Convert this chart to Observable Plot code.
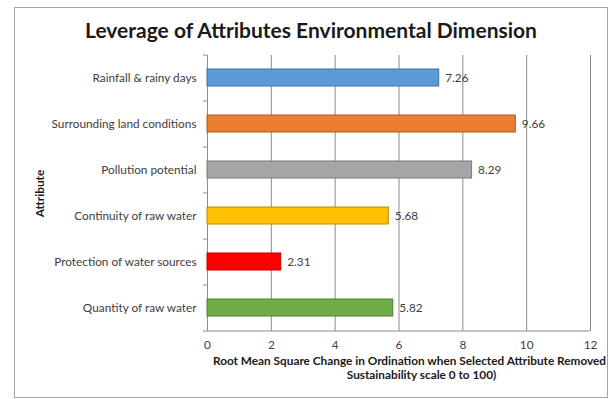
<!DOCTYPE html>
<html>
<head>
<meta charset="utf-8">
<script src="https://cdn.jsdelivr.net/npm/d3@7"></script>
<script src="https://cdn.jsdelivr.net/npm/@observablehq/plot@0.6"></script>
<style>
  body { margin: 0; background: #fff; font-family: Lato, "Open Sans", sans-serif; }
  #chart { position: relative; width: 613px; height: 399px; overflow: hidden; }
  #box { position: absolute; left: 14px; top: 7px; width: 592px; height: 389px; border: 1px solid #a6a6a6; }
  #title { position: absolute; left: 311px; top: 18px; transform: translateX(-50%); white-space: nowrap;
           font-size: 21px; font-weight: 700; color: #1a1a1a; line-height: 24px; }
  #plot { position: absolute; left: 0; top: 48px; }
</style>
</head>
<body>
<div id="chart">
  <div id="box"></div>
  <div id="title">Leverage of Attributes Environmental Dimension</div>
  <div id="plot"></div>
</div>
<script>
// Attributes of the environmental dimension, top to bottom
const categories = [
  "Rainfall & rainy days",
  "Surrounding land conditions",
  "Pollution potential",
  "Continuity of raw water",
  "Protection of water sources",
  "Quantity of raw water"
];
// RMS change in ordination when each attribute is removed
const values = [7.26, 9.66, 8.29, 5.68, 2.31, 5.82];
const xTicks = [0, 2, 4, 6, 8, 10, 12];
const yTitle = "Attribute";
const xTitleLine1 = "Root Mean Square Change in Ordination when Selected Attribute Removed";
const xTitleLine2 = "Sustainability scale 0 to 100)";

// Bar fill and outline colours
const fills = ["#5b9bd5", "#ed7d31", "#a5a5a5", "#ffc000", "#ff0000", "#70ad47"];
const strokes = ["#41719c", "#ae5a21", "#787878", "#bc8c00", "#c00000", "#507e32"];

const rows = categories.map((c, i) => ({attribute: c, value: values[i], fill: fills[i], stroke: strokes[i]}));
const gridColor = "#8c8c8c";
const last = categories[categories.length - 1];

const chart = Plot.plot({
  width: 613,
  height: 351,
  marginLeft: 207,
  marginRight: 23,
  marginTop: 7,
  marginBottom: 68,
  style: {fontFamily: "Lato, 'Open Sans', sans-serif", fontSize: "11.8px", color: "#404040", background: "transparent"},
  x: {domain: [0, 12]},
  y: {domain: categories, paddingInner: 0.62, paddingOuter: 0.31},
  color: {type: "identity"},
  marks: [
    Plot.gridX(xTicks, {stroke: gridColor, strokeOpacity: 1}),
    Plot.ruleX([0], {stroke: gridColor}),
    // band boundary ticks on the category axis
    Plot.ruleY(categories, {y: d => d, dy: -23, x1: 0, x2: 0, insetLeft: -4, stroke: gridColor}),
    Plot.ruleY([last], {y: d => d, dy: 23, x1: 0, x2: 12, insetLeft: -4, stroke: gridColor}),
    Plot.barX(rows, {y: "attribute", x: "value", fill: "fill", stroke: "stroke", strokeWidth: 1}),
    Plot.text(rows, {x: "value", y: "attribute", text: d => d.value.toFixed(2), textAnchor: "start", dx: 6, fill: "#404040"}),
    Plot.axisX({ticks: xTicks, tickSize: 0, tickPadding: 9, label: null}),
    Plot.axisY({tickSize: 0, tickPadding: 11, label: null}),
    Plot.text([yTitle], {text: d => d, frameAnchor: "left", textAnchor: "middle", rotate: -90, dx: -167, fontWeight: "bold", fill: "#1a1a1a", fontSize: 11.8}),
    Plot.text([xTitleLine1], {text: d => d, frameAnchor: "bottom", lineAnchor: "top", dx: 10.5, dy: 25, fontWeight: "bold", fill: "#1a1a1a", fontSize: 11.8}),
    Plot.text([xTitleLine2], {text: d => d, frameAnchor: "bottom", lineAnchor: "top", dx: 22.5, dy: 39, fontWeight: "bold", fill: "#1a1a1a", fontSize: 11.8})
  ]
});
document.getElementById("plot").appendChild(chart);
</script>
</body>
</html>
